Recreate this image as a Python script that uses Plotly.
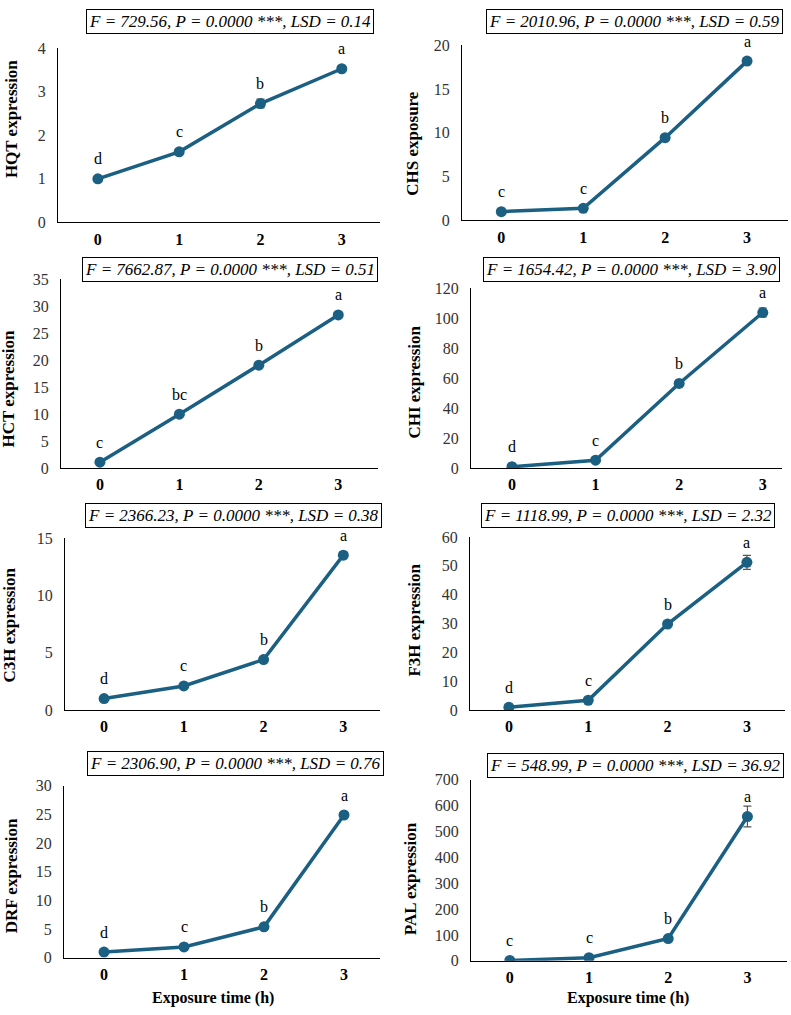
import plotly.graph_objects as go

W, H = 791, 1015

time_points = [0, 1, 2, 3]
tick_labels = ["0", "1", "2", "3"]

genes = ["HQT", "CHS", "HCT", "CHI", "C3H", "F3H", "DRF", "PAL"]
y_titles = ["HQT expression", "CHS exposure", "HCT expression", "CHI expression",
            "C3H expression", "F3H expression", "DRF expression", "PAL expression"]

hqt = [1.0, 1.62, 2.73, 3.53]
hqt_err = [0.02, 0.03, 0.10, 0.03]
chs = [1.0, 1.38, 9.45, 18.2]
chs_err = [0.03, 0.05, 0.25, 0.35]
hct = [1.1, 10.0, 19.1, 28.4]
hct_err = [0.05, 0.2, 0.3, 0.3]
chi = [1.0, 5.3, 56.5, 103.8]
chi_err = [0.1, 0.3, 1.5, 3.0]
c3h = [1.0, 2.1, 4.4, 13.5]
c3h_err = [0.03, 0.06, 0.1, 0.3]
f3h = [1.0, 3.4, 29.8, 51.2]
f3h_err = [0.05, 0.2, 0.6, 2.4]
drf = [1.0, 1.9, 5.4, 24.9]
drf_err = [0.05, 0.1, 0.2, 0.6]
pal = [1.0, 12.0, 86.0, 558.0]
pal_err = [0.1, 1.0, 4.0, 40.0]

values = [hqt, chs, hct, chi, c3h, f3h, drf, pal]
errors = [hqt_err, chs_err, hct_err, chi_err, c3h_err, f3h_err, drf_err, pal_err]

letters = [
    ["d", "c", "b", "a"],
    ["c", "c", "b", "a"],
    ["c", "bc", "b", "a"],
    ["d", "c", "b", "a"],
    ["d", "c", "b", "a"],
    ["d", "c", "b", "a"],
    ["d", "c", "b", "a"],
    ["c", "c", "b", "a"],
]

stats = [
    "F = 729.56, P = 0.0000 ***, LSD = 0.14",
    "F = 2010.96, P = 0.0000 ***, LSD = 0.59",
    "F = 7662.87, P = 0.0000 ***, LSD = 0.51",
    "F = 1654.42, P = 0.0000 ***, LSD = 3.90",
    "F = 2366.23, P = 0.0000 ***, LSD = 0.38",
    "F = 1118.99, P = 0.0000 ***, LSD = 2.32",
    "F = 2306.90, P = 0.0000 ***, LSD = 0.76",
    "F = 548.99, P = 0.0000 ***, LSD = 36.92",
]

y_max = [4, 20, 35, 120, 15, 60, 30, 700]
y_dtick = [1, 5, 5, 20, 5, 10, 5, 100]

# layout geometry (pixels): x0, x1, ytop, ybottom
boxes = [
    (58, 380, 41, 218),
    (462, 788, 38, 216),
    (61, 378, 276, 468),
    (471, 782, 285, 468),
    (65, 380, 539, 714),
    (470, 785, 538, 714),
    (64, 380, 791, 966),
    (471, 787, 785, 969),
]
x_ranges = [(-0.49, 3.47), (-0.48, 3.5), (-0.49, 3.5), (-0.49, 3.23),
            (-0.49, 3.46), (-0.49, 3.48), (-0.5, 3.45), (-0.49, 3.5)]
stat_pos = [(230, 14), (634, 14), (230, 266), (631, 266),
            (233, 516), (628, 516), (235, 768), (635, 770)]
ytitle_pos = [(11, 113), (413, 138), (9, 387), (415, 381),
              (9, 628), (415, 623), (11, 883), (410, 886)]

COLOR = "#1b5f82"
FONT = "Liberation Serif"

fig = go.Figure()
annotations = []
layout = {}

for i in range(8):
    n = i + 1
    xa = "xaxis" if n == 1 else f"xaxis{n}"
    ya = "yaxis" if n == 1 else f"yaxis{n}"
    xr = "x" if n == 1 else f"x{n}"
    yr = "y" if n == 1 else f"y{n}"
    x0, x1, yt, yb = boxes[i]

    fig.add_trace(go.Scatter(
        x=time_points, y=values[i], mode="lines+markers",
        line=dict(color=COLOR, width=3.5),
        marker=dict(color=COLOR, size=11),
        error_y=dict(type="data", array=errors[i], color="#555555",
                     thickness=1.2, width=4),
        xaxis=xr, yaxis=yr, showlegend=False, hoverinfo="skip"))

    layout[xa] = dict(
        domain=[x0 / W, x1 / W], anchor=yr, range=list(x_ranges[i]),
        tickmode="array", tickvals=time_points, ticktext=tick_labels,
        showline=True, linecolor="black", linewidth=1, showgrid=False,
        zeroline=False, ticks="", ticklabelstandoff=2,
        tickfont=dict(family=FONT, size=16, color="black", weight="bold"))
    layout[ya] = dict(
        domain=[1 - yb / H, 1 - yt / H], anchor=xr, range=[0, y_max[i]],
        dtick=y_dtick[i], tick0=0,
        showline=True, linecolor="black", linewidth=1, showgrid=False,
        zeroline=False, ticks="", ticklabelstandoff=8,
        tickfont=dict(family=FONT, size=16, color="#333333"))

    for k in range(4):
        annotations.append(dict(
            x=time_points[k], y=values[i][k], xref=xr, yref=yr,
            text=letters[i][k], showarrow=False, yshift=20,
            font=dict(family=FONT, size=16, color="black")))

    sx, sy = stat_pos[i]
    annotations.append(dict(
        x=sx / W, y=1 - sy / H, xref="paper", yref="paper",
        text=stats[i], showarrow=False, xanchor="center", yanchor="middle",
        font=dict(family=FONT, size=17, color="black", style="italic"),
        bordercolor="black", borderwidth=1, borderpad=2, bgcolor="white"))

    tx, ty = ytitle_pos[i]
    annotations.append(dict(
        x=tx / W, y=1 - ty / H, xref="paper", yref="paper",
        text=y_titles[i], showarrow=False, textangle=-90,
        xanchor="center", yanchor="middle",
        font=dict(family=FONT, size=17, color="black", weight="bold")))

for cx in (213, 628):
    annotations.append(dict(
        x=cx / W, y=1 - 1007 / H, xref="paper", yref="paper",
        text="Exposure time (h)", showarrow=False,
        xanchor="center", yanchor="middle",
        font=dict(family=FONT, size=16, color="black", weight="bold")))

fig.update_layout(
    width=W, height=H, margin=dict(l=0, r=0, t=0, b=0),
    paper_bgcolor="white", plot_bgcolor="white",
    annotations=annotations, **layout)

fig.write_html("out.html")
